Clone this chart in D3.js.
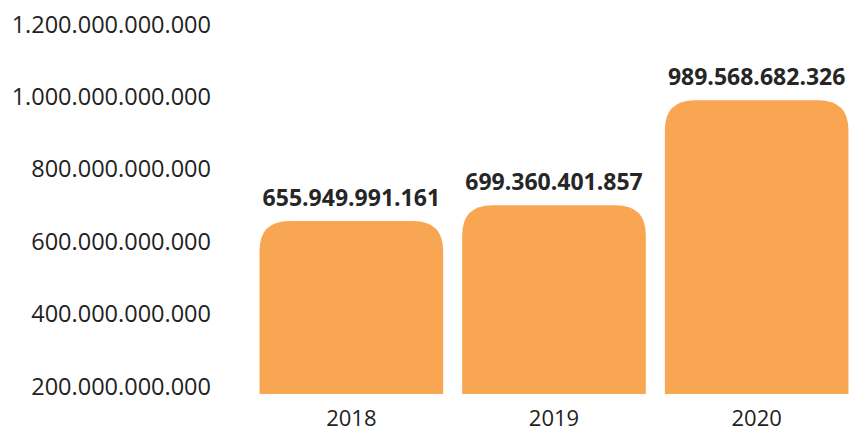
<!DOCTYPE html>
<html>
<head>
<meta charset="utf-8">
<script src="https://cdn.jsdelivr.net/npm/d3@7"></script>
<style>
  html, body { margin: 0; padding: 0; background: #fff; }
  svg { display: block; }
</style>
</head>
<body>
<svg id="chart" width="850" height="431"></svg>
<script>
const categories = ["2018", "2019", "2020"];
const values = [655949991161, 699360401857, 989568682326];
const valueLabels = ["655.949.991.161", "699.360.401.857", "989.568.682.326"];
const yTicks = [200e9, 400e9, 600e9, 800e9, 1000e9, 1200e9];
const yTickLabels = ["200.000.000.000", "400.000.000.000", "600.000.000.000", "800.000.000.000", "1.000.000.000.000", "1.200.000.000.000"];

const svg = d3.select("#chart");
const font = "'Open Sans', sans-serif";
const barColor = "#F9A652";

const y = d3.scaleLinear().domain([178e9, 1200e9]).range([394, 24]);
const x = d3.scaleBand().domain(categories).range([250, 858]).paddingInner(0.094).paddingOuter(0.047);

// y tick labels
svg.append("g").selectAll("text").data(yTicks).join("text")
  .attr("x", 211)
  .attr("y", d => y(d) + 8.5)
  .attr("text-anchor", "end")
  .attr("font-family", font)
  .attr("font-size", 23.5)
  .attr("fill", "#222")
  .text((d, i) => yTickLabels[i]);

// bars with rounded top corners
const r = 30;
function barPath(x0, w, top, bottom) {
  const rr = Math.min(r, (bottom - top), w / 2);
  return `M${x0},${bottom} L${x0},${top + rr} Q${x0},${top} ${x0 + rr},${top} L${x0 + w - rr},${top} Q${x0 + w},${top} ${x0 + w},${top + rr} L${x0 + w},${bottom} Z`;
}
svg.append("g").selectAll("path").data(values).join("path")
  .attr("d", (d, i) => barPath(x(categories[i]), x.bandwidth(), y(d), y(178e9)))
  .attr("fill", barColor);

// value labels
svg.append("g").selectAll("text").data(values).join("text")
  .attr("x", (d, i) => x(categories[i]) + x.bandwidth() / 2)
  .attr("y", d => y(d) - 15)
  .attr("text-anchor", "middle")
  .attr("font-family", font)
  .attr("font-weight", "bold")
  .attr("font-size", 23)
  .attr("fill", "#262626")
  .text((d, i) => valueLabels[i]);

// category labels
svg.append("g").selectAll("text").data(categories).join("text")
  .attr("x", d => x(d) + x.bandwidth() / 2)
  .attr("y", 426)
  .attr("text-anchor", "middle")
  .attr("font-family", font)
  .attr("font-size", 22)
  .attr("fill", "#222")
  .text(d => d);
</script>
</body>
</html>
